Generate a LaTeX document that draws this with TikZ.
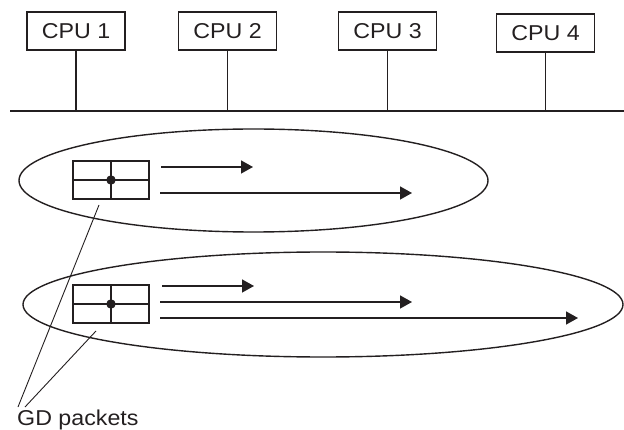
\documentclass[tikz,border=0pt]{standalone}
\usepackage{fontspec}
\setmainfont{Liberation Sans}
\newfontfamily\lblfont[FakeStretch=1.08]{Liberation Sans}
\usetikzlibrary{arrows.meta,shapes.geometric}
\definecolor{ink}{HTML}{231F20}
\begin{document}
\begin{tikzpicture}[x=1pt,y=-1pt,
  lbl/.style={font=\lblfont\fontsize{21.5}{24}\selectfont,text=ink},
  cpubox/.style={lbl,draw=ink,line width=1.5pt,minimum width=98pt,minimum height=38pt,inner sep=0pt},
  pkbox/.style={draw=ink,line width=1.5pt,minimum width=76pt,minimum height=38pt,inner sep=0pt},
  group/.style={draw=ink,line width=1.4pt,ellipse,inner sep=0pt},
  wire/.style={draw=ink,line width=1.5pt},
  arr/.style={draw=ink,line width=1.5pt,-{Triangle[length=12pt,width=13pt]}},
  leader/.style={draw=ink,line width=0.9pt}]
\useasboundingbox (0,0) rectangle (624,430);

% CPUs
\node[cpubox] (cpu1) at (76,31) {CPU 1};
\node[cpubox] (cpu2) at (227.5,31) {CPU 2};
\node[cpubox] (cpu3) at (387.5,31) {CPU 3};
\node[cpubox] (cpu4) at (545.5,33) {CPU 4};

% bus
\coordinate (busL) at (10,111);
\coordinate (busR) at (624,111);
\draw[wire] (busL) -- (busR);
\coordinate (b1) at (76,111);
\coordinate (b2) at (227.5,111);
\coordinate (b3) at (387.5,111);
\coordinate (b4) at (545.5,111);
\draw[wire] (cpu1.south) -- (b1);
\draw[wire] (cpu2.south) -- (b2);
\draw[wire] (cpu3.south) -- (b3);
\draw[wire] (cpu4.south) -- (b4);

% groups
\node[group,minimum width=469pt,minimum height=103pt] (g1) at (253.5,180.5) {};
\node[group,minimum width=600pt,minimum height=105pt] (g2) at (323,304.5) {};

% packets
\node[pkbox] (pk1) at (111,180) {};
\draw[wire] (pk1.west) -- (pk1.east);
\draw[wire] (pk1.north) -- (pk1.south);
\fill[ink] (pk1.center) circle (4.7pt);

\node[pkbox] (pk2) at (111,304) {};
\draw[wire] (pk2.west) -- (pk2.east);
\draw[wire] (pk2.north) -- (pk2.south);
\fill[ink] (pk2.center) circle (4.7pt);

% arrows group 1
\coordinate (a1s) at (161,167); \coordinate (a1e) at (253,167);
\coordinate (a2s) at (160,193); \coordinate (a2e) at (412,193);
\draw[arr] (a1s) -- (a1e);
\draw[arr] (a2s) -- (a2e);

% arrows group 2
\coordinate (c1s) at (162,286); \coordinate (c1e) at (254,286);
\coordinate (c2s) at (160,302); \coordinate (c2e) at (412,302);
\coordinate (c3s) at (160,318); \coordinate (c3e) at (578,318);
\draw[arr] (c1s) -- (c1e);
\draw[arr] (c2s) -- (c2e);
\draw[arr] (c3s) -- (c3e);

% label and leaders
\node[lbl,anchor=base west,inner sep=0pt] (gd) at (17,425) {GD packets};
\coordinate (l1s) at (99,205); \coordinate (l1e) at (18,407);
\coordinate (l2s) at (96,331); \coordinate (l2e) at (25,407);
\draw[leader] (l1s) -- (l1e);
\draw[leader] (l2s) -- (l2e);
\end{tikzpicture}
\end{document}
